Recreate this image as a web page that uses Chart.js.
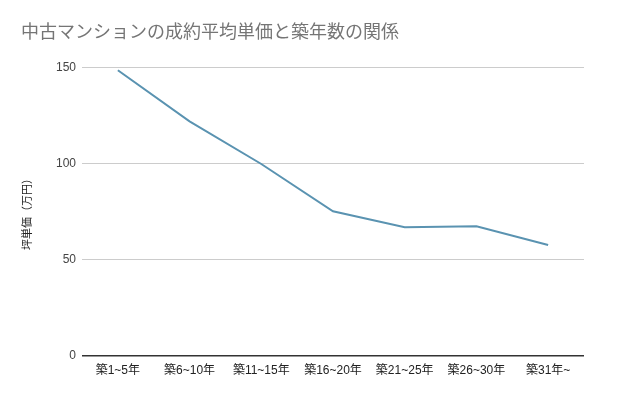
<!DOCTYPE html>
<html>
<head>
<meta charset="utf-8">
<script src="https://cdn.jsdelivr.net/npm/chart.js@4.4.0/dist/chart.umd.min.js"></script>
<style>
  html, body { margin: 0; padding: 0; background: #fff; }
  #wrap { width: 640px; height: 396px; }
</style>
</head>
<body>
<div id="wrap"><canvas id="lineChart" width="640" height="396"></canvas></div>
<script>
// data
var ageLabels = ["築1~5年", "築6~10年", "築11~15年", "築16~20年", "築21~25年", "築26~30年", "築31年~"];
var unitPrices = [148.6, 122.0, 99.8, 75.2, 66.8, 67.4, 57.6];
var yTicks = [0, 50, 100, 150];

var fontFamily = '"Liberation Sans", Arial, "Noto Sans CJK JP", sans-serif';

const data = {
  labels: ageLabels,
  datasets: [{
    label: '坪単価（万円）',
    data: unitPrices,
    borderColor: '#5a93b1',
    borderWidth: 2,
    pointRadius: 0,
    tension: 0,
    fill: false
  }]
};

const config = {
  type: 'line',
  data: data,
  options: {
    responsive: false,
    animation: false,
    layout: { padding: { left: 21, right: 56, bottom: 18, top: 0 } },
    plugins: {
      legend: { display: false },
      tooltip: { enabled: false },
      title: {
        display: true,
        text: '中古マンションの成約平均単価と築年数の関係',
        align: 'start',
        color: '#757575',
        font: { family: fontFamily, size: 18, weight: 'normal' },
        padding: { top: 22, bottom: 24 }
      }
    },
    scales: {
      x: {
        offset: true,
        grid: { display: false },
        border: { display: false },
        ticks: {
          color: '#222',
          font: { family: fontFamily, size: 12 },
          maxRotation: 0,
          padding: 0
        }
      },
      y: {
        min: 0,
        max: 150,
        afterBuildTicks: function (scale) {
          scale.ticks = yTicks.map(function (v) { return { value: v }; });
        },
        afterFit: function (scale) { scale.width = 61; },
        border: { display: false },
        grid: {
          drawTicks: false,
          color: function (ctx) { return ctx.tick && ctx.tick.value === 0 ? '#333' : '#cccccc'; },
          lineWidth: function (ctx) { return ctx.tick && ctx.tick.value === 0 ? 1.5 : 1; }
        },
        ticks: {
          color: '#444',
          font: { family: fontFamily, size: 12 },
          padding: 6
        },
        title: {
          display: true,
          text: '坪単価（万円）',
          color: '#222',
          font: { family: fontFamily, size: 11 },
          padding: { top: 0, bottom: 0 }
        }
      }
    }
  }
};

const myChart = new Chart(document.getElementById('lineChart'), config);
</script>
</body>
</html>
